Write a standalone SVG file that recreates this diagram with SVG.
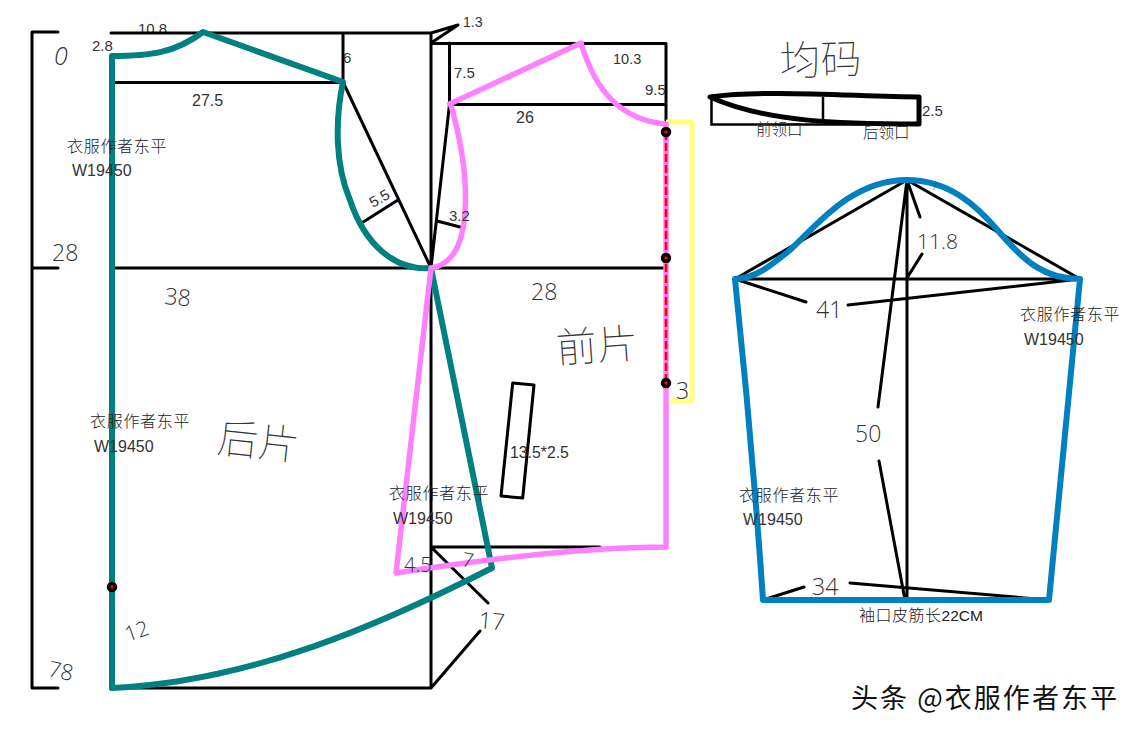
<svg xmlns="http://www.w3.org/2000/svg" width="1138" height="735" viewBox="0 0 1138 735">
<style>
.k{fill:none;stroke:#000;stroke-width:3;stroke-linecap:round;stroke-linejoin:round}
.t{fill:none;stroke:#008080;stroke-width:6;stroke-linecap:round;stroke-linejoin:round}
.p{fill:none;stroke:#ff80ff;stroke-width:5.5;stroke-linecap:round;stroke-linejoin:round}
.b{fill:none;stroke:#0080c0;stroke-width:6;stroke-linecap:round;stroke-linejoin:round}
.d{fill:#ff0000;stroke:#000;stroke-width:3.500}
text{fill:#333;font-family:"Liberation Sans","Noto Sans CJK SC",sans-serif;font-size:15px}
.c{font-family:"Noto Sans CJK SC","Liberation Sans",sans-serif;font-size:16px;letter-spacing:.7px;font-weight:300;fill:#222}
.h{font-family:"Noto Sans CJK SC",sans-serif;font-size:41px;font-weight:100}
.w{font-size:16px}
.l{font-size:23px;font-family:"Open Sans","Liberation Sans",sans-serif;font-weight:300}
</style>
<g id="labels-under">
<text x="138" y="34">10.8</text>
</g>
<g id="connectors">
<path class="k" d="M58,32H32V688H58M32,268H58"/>
<path class="k" d="M111,33H431V688H111M113,82.500H343V33M113,268H666M343,82L431,268M360,224L398,200M431,33L458,25L431,43M431,43.500H666V122M449.500,43V104.500H666M449.500,104.500L431,268M437,221L464,228M431,547H600M431,547L488,603M431,688L480,631"/>
<path class="k" d="M512.700,383L534,385L522.700,498L501,496Z"/>
<path class="k" d="M907,180L735,279H1080L907,180V600M907,180L920,217M922,254L907,278M735,279L806,302M848,305L1080,279M907,180L878,407M879,461L905,600M763,600L804,587M850,583L1049,600"/>
</g>
<g id="back-piece">
<path class="t" d="M112,688V56C150,56 175,53 203,32L343,82C335,120 335,165 350,200C365,245 395,271 431,268L492,568C380,625 250,682 112,688"/>
</g>
<g id="front-piece">
<path d="M666,122H692V401H670" fill="none" stroke="#ffff80" stroke-width="5" stroke-linejoin="round"/>
<path class="p" d="M449.500,104L581,43C595,90 620,120 666,124V547C580,547 480,560 396,573L431,268C474,262 472,180 451,105"/>
<path d="M666,132V383" fill="none" stroke="#f00" stroke-width="2.500" stroke-dasharray="8 3"/>
<circle class="d" cx="666" cy="132" r="3.500"/>
<circle class="d" cx="666" cy="258" r="3.500"/>
<circle class="d" cx="666" cy="383" r="3.500"/>
<circle class="d" cx="112" cy="587" r="3.500"/>
</g>
<g id="collar">
<path d="M711.500,97V124.500H919V97" fill="none" stroke="#000" stroke-width="2.500"/>
<path d="M823,97V120" fill="none" stroke="#000" stroke-width="2.500"/>
<path d="M710,97C770,89 860,97 919,97V124C840,124 765,122 710,97Z" fill="none" stroke="#000" stroke-width="5" stroke-linejoin="round"/>
</g>
<g id="sleeve">
<path class="b" d="M735,279Q752,440 763,600H1049Q1064,440 1080,279C1045,279 1025,262 1000,233C975,203 947,180 907,180C850,180 815,228 790,250C768,268 755,278 735,279"/>
</g>
<g id="labels">
<text x="92" y="51">2.8</text>
<text class="l" x="54" y="65" font-style="italic" style="font-size:25px">0</text>
<text x="343" y="63">6</text>
<text x="192" y="106" style="font-size:16px">27.5</text>
<text class="c" x="67" y="152">衣服作者东平</text>
<text class="w" x="72" y="176">W19450</text>
<text class="l" x="52" y="261">28</text>
<text class="l" transform="translate(164,304) rotate(5)">38</text>
<text class="l" x="531" y="300">28</text>
<text class="h" transform="translate(557,363) rotate(-4)">前片</text>
<text class="h" transform="translate(216,452) rotate(6)">后片</text>
<text class="h" transform="translate(780,76) rotate(-2)">均码</text>
<text class="c" x="756" y="135" style="font-size:15.500px;letter-spacing:0">前领口</text>
<text class="c" x="863" y="138" style="font-size:15.500px;letter-spacing:0">后领口</text>
<text x="922" y="116">2.5</text>
<text x="463" y="27" style="font-size:14px">1.3</text>
<text x="454" y="78">7.5</text>
<text x="613" y="64" style="font-size:14.500px">10.3</text>
<text x="645" y="95">9.5</text>
<text x="516" y="123" style="font-size:16px">26</text>
<text x="449" y="221">3.2</text>
<text transform="translate(373,208) rotate(-30)">5.5</text>
<text class="l" x="676" y="399">3</text>
<text x="510" y="458" style="font-size:15.800px">13.5*2.5</text>
<text class="l" x="404" y="572" style="font-size:20px">4.5</text>
<text class="l" transform="translate(461,566) rotate(10)" style="font-size:20px">7</text>
<text class="l" transform="translate(478,628) rotate(5)">17</text>
<text class="l" transform="translate(128,642) rotate(-20)" style="font-size:21px">12</text>
<text class="l" transform="translate(47,676) rotate(12)" style="font-size:22px">78</text>
<text class="l" x="855" y="442">50</text>
<text class="l" x="917" y="249" style="font-size:21px">11.8</text>
<text class="l" x="816" y="318">41</text>
<text class="l" x="812" y="595">34</text>
<text class="l" transform="translate(932,190)" style="font-size:9px">7</text>
<text class="c" x="859" y="621" style="letter-spacing:.5px">袖口皮筋长<tspan font-family="Liberation Sans" style="letter-spacing:0;font-size:15.500px">22CM</tspan></text>
<text class="c" x="1020" y="320">衣服作者东平</text>
<text class="w" x="1024" y="345">W19450</text>
<text class="c" x="739" y="501">衣服作者东平</text>
<text class="w" x="743" y="525">W19450</text>
<text class="c" x="389" y="499">衣服作者东平</text>
<text class="w" x="393" y="524">W19450</text>
<text class="c" x="90" y="427">衣服作者东平</text>
<text class="w" x="94" y="452">W19450</text>
<text x="851" y="708" textLength="266" style="font-family:'Noto Sans CJK SC',sans-serif;font-size:27px;font-weight:400;fill:#111">头条 @衣服作者东平</text>
</g>
</svg>
